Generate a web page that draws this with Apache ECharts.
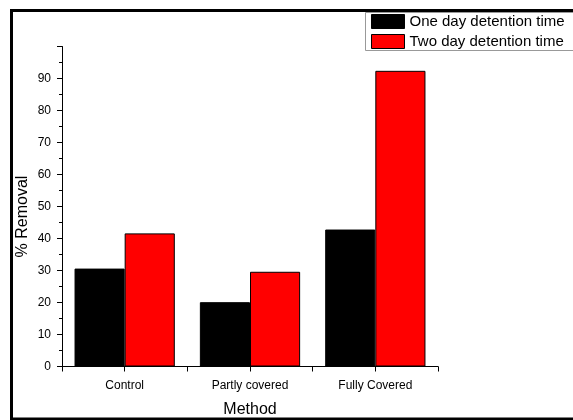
<!DOCTYPE html>
<html>
<head>
<meta charset="utf-8">
<script src="https://cdn.jsdelivr.net/npm/echarts@6/dist/echarts.min.js"></script>
<style>
  html, body { margin: 0; padding: 0; background: #fff; }
  #chart { width: 573px; height: 420px; }
</style>
</head>
<body>
<div id="chart"></div>
<script>
// Removal efficiency by covering method
const methods = ['Control', 'Partly covered', 'Fully Covered'];
const oneDay = [30.6, 20.1, 42.8];
const twoDay = [41.6, 29.6, 92.4];
const seriesNames = ['One day detention time', 'Two day detention time'];
const yTicks = { min: 0, max: 100, interval: 10 };

const FONT = '"Liberation Sans", Arial, sans-serif';
const chart = echarts.init(document.getElementById('chart'), null, { renderer: 'canvas' });

chart.setOption({
  backgroundColor: '#fff',
  animation: false,
  textStyle: { fontFamily: FONT },
  grid: { left: 62, right: 135, top: 46.5, bottom: 53.5, containLabel: false, outerBoundsMode: 'none' },
  legend: {
    orient: 'vertical',
    left: 366,
    top: 12,
    z: 5,
    data: seriesNames,
    icon: 'rect',
    itemWidth: 33,
    itemHeight: 14,
    itemGap: 5,
    padding: [2, 10, 2, 5],
    borderWidth: 0,
    textStyle: { fontFamily: FONT, fontSize: 15, color: '#000' },
    itemStyle: { borderColor: '#000', borderWidth: 1 }
  },
  xAxis: [
    {
      type: 'category',
      data: methods,
      name: 'Method',
      nameLocation: 'middle',
      nameGap: 35,
      nameMoveOverlap: false,
      nameTextStyle: { fontFamily: FONT, fontSize: 16, color: '#000' },
      axisLine: { lineStyle: { color: '#000', width: 1 } },
      axisTick: { show: true, alignWithLabel: true, length: 5, lineStyle: { color: '#000' } },
      axisLabel: { fontFamily: FONT, fontSize: 12, color: '#000', margin: 13 }
    },
    {
      // boundary ticks between the method groups
      type: 'category',
      data: methods,
      position: 'bottom',
      axisLine: { show: false },
      axisTick: { show: true, length: 5, lineStyle: { color: '#000' } },
      axisLabel: { show: false }
    }
  ],
  yAxis: {
    type: 'value',
    min: yTicks.min,
    max: yTicks.max,
    interval: yTicks.interval,
    name: '% Removal',
    nameLocation: 'middle',
    nameGap: 31,
    nameMoveOverlap: false,
    nameTextStyle: { fontFamily: FONT, fontSize: 16, color: '#000', padding: [0, 20, 0, 0] },
    axisLine: { show: true, lineStyle: { color: '#000', width: 1 } },
    axisTick: { show: true, length: 5, lineStyle: { color: '#000' } },
    minorTick: { show: true, splitNumber: 2, length: 3, lineStyle: { color: '#000' } },
    splitLine: { show: false },
    axisLabel: {
      fontFamily: FONT, fontSize: 12, color: '#000', margin: 11,
      formatter: v => (v >= 100 ? '' : String(v))
    }
  },
  series: [
    {
      name: seriesNames[0],
      type: 'bar',
      data: oneDay,
      barGap: '0%',
      barCategoryGap: '20%',
      itemStyle: { color: '#000', borderColor: '#000', borderWidth: 1 }
    },
    {
      name: seriesNames[1],
      type: 'bar',
      data: twoDay,
      barGap: '0%',
      barCategoryGap: '20%',
      itemStyle: { color: '#ff0000', borderColor: '#000', borderWidth: 1 }
    }
  ],
  graphic: [
    {
      // legend box, running off the right edge of the page
      type: 'rect',
      z: 1,
      silent: true,
      shape: { x: 365.5, y: 12.5, width: 300, height: 38 },
      style: { fill: '#fff', stroke: '#999', lineWidth: 1 }
    },
    {
      // page frame: top, left and bottom edges
      type: 'polyline',
      z: 100,
      silent: true,
      shape: { points: [[640, 10.5], [11.5, 10.5], [11.5, 419], [640, 419]] },
      style: { fill: 'none', stroke: '#000', lineWidth: 3 }
    }
  ]
});
</script>
</body>
</html>
